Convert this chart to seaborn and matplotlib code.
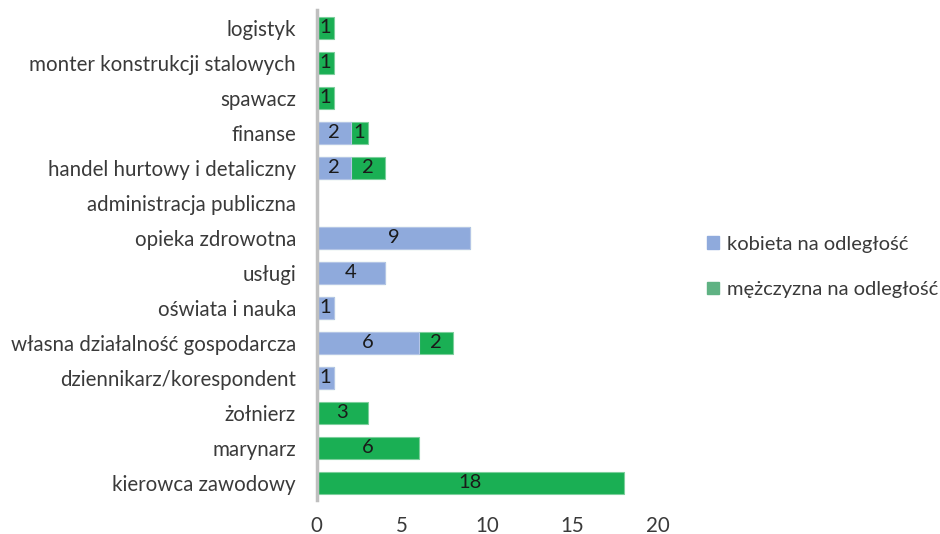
import numpy as np
import pandas as pd
import seaborn as sns
import matplotlib.pyplot as plt

categories = ['logistyk', 'monter konstrukcji stalowych', 'spawacz', 'finanse',
              'handel hurtowy i detaliczny', 'administracja publiczna', 'opieka zdrowotna',
              'usługi', 'oświata i nauka', 'własna działalność gospodarcza',
              'dziennikarz/korespondent', 'żołnierz', 'marynarz', 'kierowca zawodowy']
kobieta = [0, 0, 0, 2, 2, 0, 9, 4, 1, 6, 1, 0, 0, 0]
mezczyzna = [1, 1, 1, 1, 2, 0, 0, 0, 0, 2, 0, 3, 6, 18]
series_names = ['kobieta na odległość', 'mężczyzna na odległość']

blue = '#8faadc'
green = '#1aaf54'

sns.set_style('white')
plt.rcParams['font.family'] = ['Lato', 'DejaVu Sans']

df = pd.DataFrame({'kategoria': categories, 'k': kobieta, 'm': mezczyzna})
df['suma'] = df['k'] + df['m']

fig = plt.figure(figsize=(9.4, 5.34), dpi=100)
ax = fig.add_axes([0.337, 0.063, 0.363, 0.918])

# green drawn as total, blue on top of it
sns.barplot(data=df, y='kategoria', x='suma', color=green, width=0.63,
            edgecolor='#7ccf9c', linewidth=0.8, ax=ax, saturation=1)
sns.barplot(data=df, y='kategoria', x='k', color=blue, width=0.63,
            edgecolor='#b4c5e6', linewidth=0.8, ax=ax, saturation=1)

for i, (k, m) in enumerate(zip(kobieta, mezczyzna)):
    if k > 0:
        ax.text(k / 2, i, str(k), ha='center', va='center', fontsize=14.5, color='#1a1a1a')
    if m > 0:
        ax.text(k + m / 2, i, str(m), ha='center', va='center', fontsize=14.5, color='#1a1a1a')

ax.set_xlim(0, 20)
ax.set_ylim(13.5, -0.5)
ax.set_xticks([0, 5, 10, 15, 20])
ax.set_xlabel('')
ax.set_ylabel('')
ax.tick_params(axis='both', length=0, labelsize=14.8, colors='#3a3a3a')
ax.tick_params(axis='x', pad=11)
ax.tick_params(axis='y', pad=15)
for s in ['top', 'right', 'bottom']:
    ax.spines[s].set_visible(False)
ax.spines['left'].set_color('#bfbfbf')
ax.spines['left'].set_linewidth(2.5)

handles = [plt.Rectangle((0, 0), 1, 1, color=blue),
           plt.Rectangle((0, 0), 1, 1, color='#5fb283')]
fig.legend(handles, series_names, loc='center left', bbox_to_anchor=(0.733, 0.5),
           frameon=False, fontsize=14.5, labelspacing=1.4, handlelength=0.6,
           handleheight=0.6, handletextpad=0.4, labelcolor='#3a3a3a')

fig.savefig('out.png', dpi=100)
